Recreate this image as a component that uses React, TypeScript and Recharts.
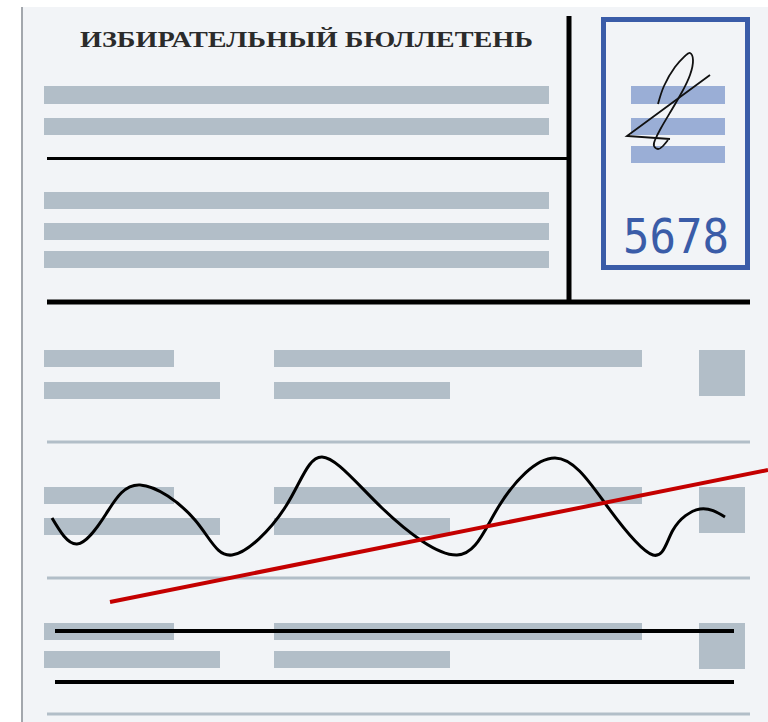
import React from "react";
import {
  ComposedChart,
  Line,
  XAxis,
  YAxis,
  ReferenceArea,
  ReferenceLine,
  Label,
} from "recharts";

// sheet is drawn on a 768 x 722 value grid, y grows downwards
const GRID_W = 768;
const GRID_H = 722;

const titleText = "ИЗБИРАТЕЛЬНЫЙ БЮЛЛЕТЕНЬ";
const serialText = "5678";

// header text bars (top, bottom)
const headerRows: [number, number][] = [
  [86, 104],
  [118, 135],
  [192, 209],
  [223, 240],
  [251, 268],
];

// bars inside the stamp box
const stampRows: [number, number][] = [
  [86, 104],
  [118, 135],
  [146, 163],
];

// candidate blocks: first line, second line
const candidateFirst: [number, number][] = [
  [350, 367],
  [487, 504],
  [623, 640],
];
const candidateSecond: [number, number][] = [
  [382, 399],
  [518, 535],
  [651, 668],
];
// name column / description column / check box (x1, x2)
const shortCol: [number, number] = [44, 174];
const longCol: [number, number] = [44, 220];
const midFirst: [number, number] = [274, 642];
const midSecond: [number, number] = [274, 450];
const boxCol: [number, number] = [699, 745];

// separators: y levels
const graySeparators = [442, 578, 714];
const strikeLines = [631, 682];

// the wavy scribble across the second candidate (extremes and crossings)
const waveX = [52, 77, 106, 140, 195, 232, 286, 322, 382, 457, 499, 555, 607, 653, 673, 700, 725];
const waveY = [518, 544, 514, 485, 520, 555, 506, 457, 508, 555, 506, 458, 506, 555, 530, 509, 517];

// the red stroke
const redX = [110, 768];
const redY = [602, 470];

// signature: loop part and the sharp tick
const sigLoopX = [658, 664, 675, 685, 690, 693, 690, 682, 671, 661, 655, 654, 658, 663, 668];
const sigLoopY = [104, 86, 67, 56, 53, 60, 75, 92, 111, 128, 140, 146, 149, 146, 140];
const sigTickX = [670, 627, 710];
const sigTickY = [139, 136, 75];

const zip = (xs: number[], ys: number[]) => xs.map((x, i) => ({ x, y: ys[i] }));

const waveData = zip(waveX, waveY);
const redData = zip(redX, redY);
const sigLoopData = zip(sigLoopX, sigLoopY);
const sigTickData = zip(sigTickX, sigTickY);

const PAPER = "#f2f4f7";
const BAR = "#b2bec8";
const STAMP_BAR = "#9aaed6";
const BLUE = "#3a5ca8";

function TitleLabel(props: any) {
  const { x, y, width, height } = props.viewBox;
  return (
    <text
      x={x}
      y={y + height}
      textLength={width}
      lengthAdjust="spacingAndGlyphs"
      fontFamily="'Liberation Serif', serif"
      fontWeight="bold"
      fontSize={24}
      fill="#2b2b2b"
    >
      {titleText}
    </text>
  );
}

function SerialLabel(props: any) {
  const { x, y, width, height } = props.viewBox;
  return (
    <text
      transform={`translate(${x}, ${y + height}) scale(1, 1.25)`}
      x={0}
      y={0}
      textLength={width}
      lengthAdjust="spacingAndGlyphs"
      fontFamily="'DejaVu Sans Mono', monospace"
      fontSize={38}
      fill={BLUE}
    >
      {serialText}
    </text>
  );
}

export default function App() {
  return (
    <div style={{ position: "absolute", left: 0, top: 0, width: GRID_W, height: GRID_H, background: "#fff" }}>
      <ComposedChart width={GRID_W} height={GRID_H} margin={{ top: 0, right: 0, bottom: 0, left: 0 }}>
        <XAxis type="number" dataKey="x" domain={[0, GRID_W]} allowDataOverflow hide />
        <YAxis type="number" dataKey="y" domain={[0, GRID_H]} reversed allowDataOverflow hide />

        {/* paper */}
        <ReferenceArea x1={23} x2={GRID_W} y1={7} y2={GRID_H} fill={PAPER} fillOpacity={1} ifOverflow="visible" />
        <ReferenceArea x1={21} x2={23} y1={7} y2={GRID_H} fill="#a3a7ad" fillOpacity={1} ifOverflow="visible" />

        <ReferenceArea x1={80} x2={533} y1={30} y2={47} fillOpacity={0} ifOverflow="visible">
          <Label content={TitleLabel} />
        </ReferenceArea>

        {headerRows.map(([a, b]) => (
          <ReferenceArea key={`h${a}`} x1={44} x2={549} y1={a} y2={b} fill={BAR} fillOpacity={1} ifOverflow="visible" />
        ))}

        {/* stamp box */}
        <ReferenceArea x1={603.5} x2={747.5} y1={19.5} y2={267.5} fill="none" stroke={BLUE} strokeWidth={5} ifOverflow="visible" />
        {stampRows.map(([a, b]) => (
          <ReferenceArea key={`s${a}`} x1={631} x2={725} y1={a} y2={b} fill={STAMP_BAR} fillOpacity={1} ifOverflow="visible" />
        ))}
        <ReferenceArea x1={623} x2={729} y1={253} y2={253} fillOpacity={0} ifOverflow="visible">
          <Label content={SerialLabel} />
        </ReferenceArea>

        {/* frame lines */}
        <ReferenceLine segment={[{ x: 47, y: 158.5 }, { x: 568, y: 158.5 }]} stroke="#000" strokeWidth={3} ifOverflow="visible" />
        <ReferenceLine segment={[{ x: 569, y: 16 }, { x: 569, y: 302 }]} stroke="#000" strokeWidth={5} ifOverflow="visible" />
        <ReferenceLine segment={[{ x: 47, y: 302 }, { x: 750, y: 302 }]} stroke="#000" strokeWidth={5} ifOverflow="visible" />

        {candidateFirst.map(([a, b], i) => (
          <React.Fragment key={`c${a}`}>
            <ReferenceArea x1={shortCol[0]} x2={shortCol[1]} y1={a} y2={b} fill={BAR} fillOpacity={1} ifOverflow="visible" />
            <ReferenceArea x1={midFirst[0]} x2={midFirst[1]} y1={a} y2={b} fill={BAR} fillOpacity={1} ifOverflow="visible" />
            <ReferenceArea x1={longCol[0]} x2={longCol[1]} y1={candidateSecond[i][0]} y2={candidateSecond[i][1]} fill={BAR} fillOpacity={1} ifOverflow="visible" />
            <ReferenceArea x1={midSecond[0]} x2={midSecond[1]} y1={candidateSecond[i][0]} y2={candidateSecond[i][1]} fill={BAR} fillOpacity={1} ifOverflow="visible" />
            <ReferenceArea x1={boxCol[0]} x2={boxCol[1]} y1={a} y2={a + 46} fill={BAR} fillOpacity={1} ifOverflow="visible" />
          </React.Fragment>
        ))}

        {graySeparators.map((y) => (
          <ReferenceLine key={`g${y}`} segment={[{ x: 47, y }, { x: 750, y }]} stroke={BAR} strokeWidth={3} ifOverflow="visible" />
        ))}
        {strikeLines.map((y) => (
          <ReferenceLine key={`k${y}`} segment={[{ x: 55, y }, { x: 734, y }]} stroke="#000" strokeWidth={4} ifOverflow="visible" />
        ))}

        <Line data={sigLoopData} dataKey="y" type="natural" stroke="#111" strokeWidth={1.8} dot={false} activeDot={false} isAnimationActive={false} />
        <Line data={sigTickData} dataKey="y" type="linear" stroke="#111" strokeWidth={1.8} dot={false} activeDot={false} isAnimationActive={false} />
        <Line data={waveData} dataKey="y" type="natural" stroke="#000" strokeWidth={3} dot={false} activeDot={false} isAnimationActive={false} />
        <Line data={redData} dataKey="y" type="linear" stroke="#c40000" strokeWidth={4} dot={false} activeDot={false} isAnimationActive={false} />
      </ComposedChart>
    </div>
  );
}
